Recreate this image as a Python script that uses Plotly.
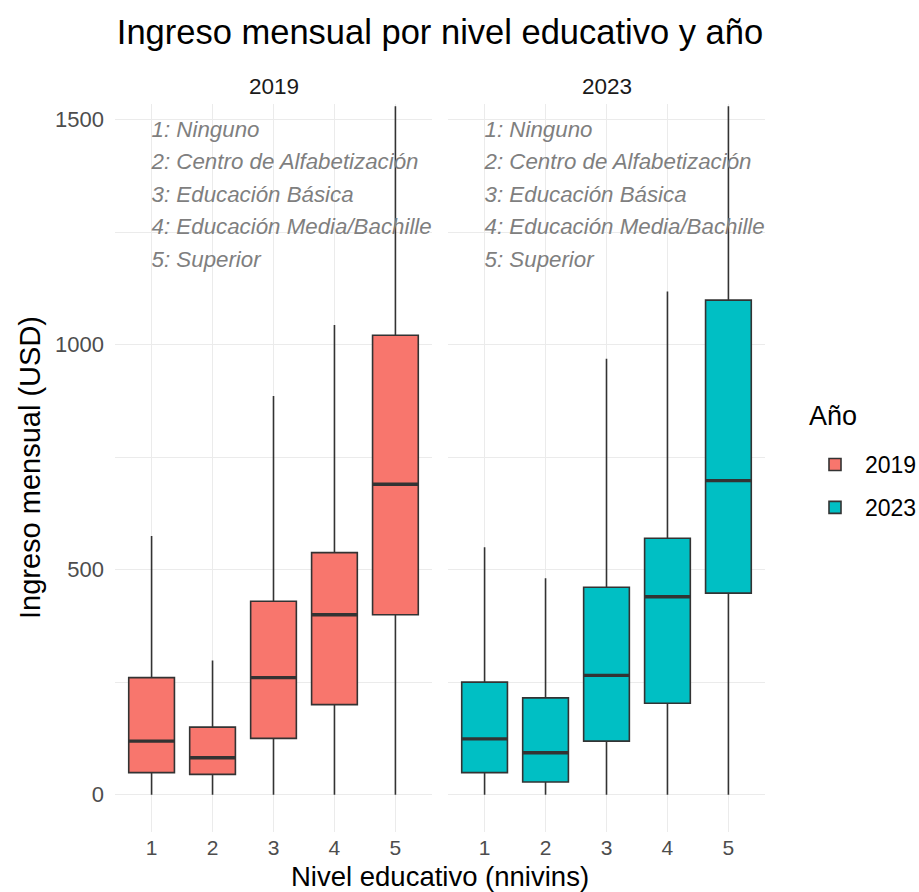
import plotly.graph_objects as go
from plotly.subplots import make_subplots

# ---------------- data ----------------
levels = [1, 2, 3, 4, 5]
level_labels = ["1", "2", "3", "4", "5"]
years = ["2019", "2023"]

low_2019 = [0, 0, 0, 0, 0]
q1_2019 = [49, 45, 125, 200, 400]
med_2019 = [119, 82, 260, 400, 690]
q3_2019 = [260, 150, 430, 538, 1021]
up_2019 = [575, 298, 886, 1044, 1530]

low_2023 = [0, 0, 0, 0, 0]
q1_2023 = [49, 28, 119, 203, 448]
med_2023 = [124, 93, 265, 440, 698]
q3_2023 = [250, 215, 461, 570, 1099]
up_2023 = [550, 481, 969, 1118, 1530]

legend_text = [
    "1: Ninguno",
    "2: Centro de Alfabetización",
    "3: Educación Básica",
    "4: Educación Media/Bachille",
    "5: Superior",
]

y_ticks = [0, 500, 1000, 1500]

# ---------------- style ----------------
FONT = "Liberation Sans, Arial, Helvetica, sans-serif"
colors = {"2019": "#F8766D", "2023": "#00BFC4"}
OUTLINE = "#333333"
GRID = "#EBEBEB"
BOX_W = 0.75

stats = {
    "2019": (low_2019, q1_2019, med_2019, q3_2019, up_2019),
    "2023": (low_2023, q1_2023, med_2023, q3_2023, up_2023),
}

W, H = 919, 892
ML, MR, MT, MB = 115, 154, 104, 60
plot_w = W - ML - MR
plot_h = H - MT - MB


def px_x(px):
    return (px - ML) / plot_w


def px_y(py):
    return (H - MB - py) / plot_h


fig = make_subplots(rows=1, cols=2, shared_yaxes=True,
                    horizontal_spacing=16 / plot_w)

# annotation text lines (drawn as clipped scatter text)
ann_top, ann_step = 1474, 72
for col in (1, 2):
    fig.add_trace(go.Scatter(
        x=[1] * len(legend_text),
        y=[ann_top - i * ann_step for i in range(len(legend_text))],
        mode="text", text=legend_text, textposition="middle right",
        textfont=dict(family=FONT, size=22.3, color="#7F7F7F", style="italic"),
        cliponaxis=True, showlegend=False, hoverinfo="skip",
    ), row=1, col=col)

for col, yr in enumerate(years, start=1):
    lo, q1, md, q3, up = stats[yr]
    fig.add_trace(go.Box(
        x=levels, lowerfence=lo, q1=q1, median=md, q3=q3, upperfence=up,
        name=yr, legendgroup=yr, width=BOX_W, whiskerwidth=0,
        fillcolor=colors[yr], line=dict(color=OUTLINE, width=1.6),
        boxpoints=False, showlegend=True,
    ), row=1, col=col)
    # thicker median line, as in ggplot
    mx, my = [], []
    for lv, m in zip(levels, md):
        mx += [lv - BOX_W / 2, lv + BOX_W / 2, None]
        my += [m, m, None]
    fig.add_trace(go.Scatter(
        x=mx, y=my, mode="lines", line=dict(color=OUTLINE, width=3.4),
        showlegend=False, hoverinfo="skip", cliponaxis=True,
    ), row=1, col=col)

for col in (1, 2):
    fig.update_xaxes(
        range=[0.4, 5.6], tickvals=levels, ticktext=level_labels,
        showgrid=True, gridcolor=GRID, gridwidth=1.3, zeroline=False,
        showline=False, ticks="", ticklabelstandoff=1,
        tickfont=dict(family=FONT, size=21, color="#4D4D4D"),
        row=1, col=col)
    fig.update_yaxes(
        range=[-83, 1535], tickvals=y_ticks,
        showgrid=True, gridcolor=GRID, gridwidth=1.3, zeroline=False,
        minor=dict(dtick=250, tick0=0, showgrid=True, gridcolor=GRID, gridwidth=0.7),
        showline=False, ticks="", ticklabelstandoff=10,
        tickfont=dict(family=FONT, size=22, color="#4D4D4D"),
        row=1, col=col)

# facet strip labels
for xr, yr in (("x", "2019"), ("x2", "2023")):
    fig.add_annotation(x=3, y=px_y(86), xref=xr, yref="paper", text=yr,
                       showarrow=False, yanchor="middle",
                       font=dict(family=FONT, size=22.5, color="#1A1A1A"))

# axis titles
fig.add_annotation(x=0.5, y=px_y(876), xref="paper", yref="paper",
                   text="Nivel educativo (nnivins)", showarrow=False, yanchor="middle",
                   font=dict(family=FONT, size=27.5, color="#000000"))
fig.add_annotation(x=px_x(30), y=0.5, xref="paper", yref="paper",
                   text="Ingreso mensual (USD)", showarrow=False, textangle=-90,
                   xanchor="center", yanchor="middle",
                   font=dict(family=FONT, size=29, color="#000000"))

# legend title
fig.add_annotation(x=px_x(807), y=px_y(416), xref="paper", yref="paper",
                   text="Año", showarrow=False, xanchor="left", yanchor="middle",
                   font=dict(family=FONT, size=27, color="#000000"))

fig.update_layout(
    width=W, height=H,
    margin=dict(l=ML, r=MR, t=MT, b=MB, autoexpand=False),
    paper_bgcolor="white", plot_bgcolor="white",
    title=dict(text="Ingreso mensual por nivel educativo y año",
               x=0.5, xref="paper", xanchor="center",
               y=1 - 32 / H, yref="container", yanchor="middle",
               font=dict(family=FONT, size=34.5, color="#000000")),
    legend=dict(font=dict(family=FONT, size=23, color="#000000"),
                x=px_x(805), xanchor="left", y=px_y(443), yanchor="top",
                itemwidth=50,
                traceorder="grouped", tracegroupgap=10,
                bgcolor="rgba(0,0,0,0)"),
    boxmode="overlay",
)

fig.write_html("out.html", config={"displayModeBar": False},
               post_script="document.body.style.margin='0';")
